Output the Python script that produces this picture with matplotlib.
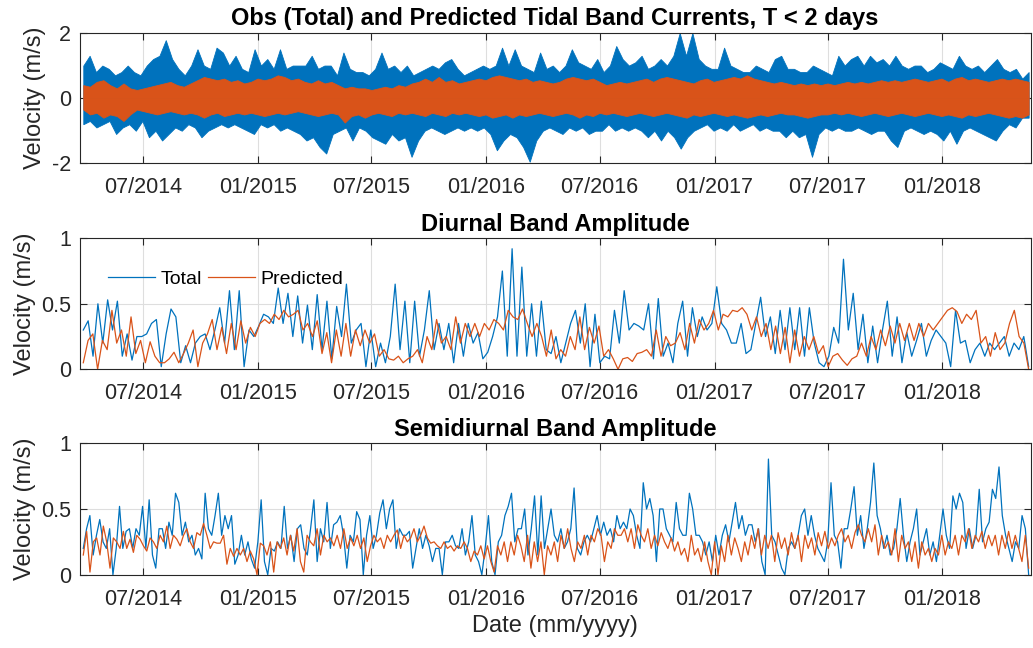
import numpy as np
import pandas as pd
import matplotlib
matplotlib.use('Agg')
import matplotlib.pyplot as plt
import matplotlib.dates as mdates

plt.rcParams['font.family'] = ['Liberation Sans', 'DejaVu Sans']
plt.rcParams['axes.unicode_minus'] = False

# record span
t_start = '2014-03-27'
t_end = '2018-05-19'

# top panel: envelopes of the band-passed currents (m/s)
obs_upper = [1.0,1.3,0.8,1.0,0.9,0.7,0.8,1.0,0.8,0.7,1.0,1.2,1.3,1.78,1.2,0.9,0.7,1.0,1.5,1.0,0.9,1.55,1.4,1.0,1.3,0.9,0.8,1.5,1.0,1.2,
             0.9,1.5,0.9,1.0,1.0,1.0,1.3,0.9,1.0,1.0,0.7,1.4,0.9,0.8,0.8,0.7,0.9,1.4,0.9,1.0,0.8,1.0,0.7,0.8,0.9,1.0,0.9,1.1,1.2,0.9,
             0.7,0.8,0.9,1.0,0.9,1.0,1.55,1.0,1.5,
             1.0,0.9,0.8,1.4,0.9,1.0,0.8,1.0,1.5,1.1,1.0,0.9,1.2,0.8,1.0,1.6,1.2,1.0,1.1,1.3,0.9,1.0,1.2,1.0,1.3,2.0,1.3,2.0,1.2,1.0,
             0.9,0.9,1.55,1.0,0.9,0.8,0.8,1.0,0.9,0.8,1.2,1.3,0.9,0.9,0.8,0.8,1.0,0.9,0.8,0.7,1.3,1.0,1.2,1.3,1.0,1.3,1.1,1.2,1.0,1.3,
             1.0,0.9,1.0,1.0,0.8,0.9,1.1,1.0,0.9,1.3,1.0,0.9,1.0,0.8,1.0,1.2,0.9,0.8,0.9,0.6,0.8]
obs_lower = [-0.8,-0.7,-0.9,-0.8,-0.7,-1.1,-0.9,-0.8,-1.0,-0.7,-1.2,-1.0,-1.3,-1.1,-0.9,-1.0,-0.8,-0.9,-1.2,-1.0,-0.9,-0.8,-0.9,-0.8,
             -0.9,-1.0,-1.1,-0.8,-0.9,-0.8,-1.0,-0.9,-1.0,-1.1,-1.3,-1.2,-1.5,-1.7,-1.1,-1.0,-0.9,-1.3,-0.9,-1.0,-1.2,-1.3,-1.4,-1.1,
             -1.3,-1.2,-1.8,-1.3,-1.0,-0.9,-1.0,-1.1,-1.0,-0.9,-1.0,-0.9,-1.0,-0.9,-1.1,-1.6,-1.3,-1.1,
             -1.2,-1.5,-1.95,-1.3,-1.0,-0.9,-1.0,-1.1,-0.9,-1.0,-0.9,-1.1,-1.0,-1.0,-0.8,-1.0,-0.9,-1.0,-0.9,-1.0,-1.2,-1.0,-1.3,-1.0,
             -1.2,-1.55,-1.2,-1.0,-0.9,-0.8,-1.0,-0.9,-1.0,-0.8,-1.0,-0.9,-0.8,-1.0,-0.9,-1.0,-1.0,-1.2,-1.0,-1.2,-1.1,-1.8,-1.1,-0.9,
             -1.0,-0.9,-1.0,-1.0,-0.9,-1.0,-1.1,-1.0,-1.0,-1.3,-1.5,-1.0,-0.9,-1.0,-1.1,-1.0,-1.1,-1.3,-1.0,-1.4,-1.0,-0.9,-1.0,-1.1,
             -1.2,-1.3,-1.0,-0.8,-0.9,-0.6,-0.6]
pred_upper = [0.4,0.35,0.5,0.55,0.4,0.3,0.45,0.3,0.25,0.3,0.35,0.4,0.45,0.5,0.4,0.35,0.45,0.55,0.65,0.6,0.55,0.6,0.5,0.55,0.45,
              0.5,0.6,0.55,0.6,0.7,0.65,0.55,0.6,0.5,0.45,0.55,0.45,0.5,0.4,0.3,0.35,0.3,0.3,0.25,0.3,0.35,0.3,0.4,0.35,0.45,
              0.5,0.6,0.5,0.65,0.5,0.55,0.45,0.5,0.55,0.6,0.55,0.65,0.7,0.65,
              0.6,0.55,0.6,0.5,0.55,0.5,0.45,0.5,0.6,0.65,0.6,0.55,0.6,0.5,0.4,0.45,0.5,0.45,0.5,0.55,0.6,0.5,0.6,0.65,0.6,
              0.55,0.5,0.45,0.55,0.6,0.5,0.55,0.6,0.65,0.6,0.7,0.6,0.55,0.5,0.45,0.5,0.45,0.4,0.45,0.4,0.45,0.4,0.45,0.4,0.45,
              0.5,0.45,0.5,0.45,0.5,0.55,0.5,0.55,0.5,0.55,0.6,0.55,0.5,0.55,0.6,0.5,0.6,0.65,0.55,0.6,0.55,0.5,0.55,0.6,0.55,
              0.6,0.55,0.5]
pred_lower = [-0.35,-0.5,-0.45,-0.6,-0.5,-0.55,-0.7,-0.5,-0.35,-0.4,-0.45,-0.5,-0.45,-0.4,-0.45,-0.5,-0.45,-0.5,-0.6,-0.5,-0.45,
              -0.55,-0.5,-0.45,-0.5,-0.45,-0.5,-0.55,-0.5,-0.45,-0.5,-0.45,-0.4,-0.45,-0.5,-0.55,-0.5,-0.45,-0.5,-0.75,-0.55,-0.5,
              -0.6,-0.5,-0.45,-0.5,-0.55,-0.45,-0.5,-0.45,-0.5,-0.55,-0.45,-0.5,-0.55,-0.45,-0.5,-0.45,-0.5,-0.55,-0.5,-0.6,-0.55,-0.5,
              -0.6,-0.5,-0.55,-0.5,-0.45,-0.5,-0.55,-0.5,-0.45,-0.5,-0.6,-0.5,-0.55,-0.45,-0.5,-0.45,-0.5,-0.55,-0.5,-0.45,-0.5,
              -0.55,-0.5,-0.45,-0.5,-0.55,-0.6,-0.5,-0.55,-0.5,-0.45,-0.5,-0.55,-0.5,-0.55,-0.6,-0.55,-0.5,-0.55,-0.5,-0.45,-0.5,
              -0.5,-0.55,-0.6,-0.55,-0.5,-0.5,-0.45,-0.5,-0.45,-0.5,-0.55,-0.5,-0.45,-0.5,-0.55,-0.5,-0.45,-0.5,-0.55,-0.5,-0.45,
              -0.5,-0.55,-0.5,-0.55,-0.6,-0.5,-0.55,-0.5,-0.45,-0.5,-0.55,-0.6,-0.55,-0.6,-0.5]

# diurnal band amplitude (m/s)
diurnal_total = [0.30,0.37,0.10,0.50,0.20,0.53,0.30,0.52,0.10,0.27,0.07,0.25,0.25,0.27,0.35,0.38,0.02,0.27,0.46,0.40,
                 0.05,0.18,0.05,0.20,0.25,0.27,0.15,0.30,0.47,0.20,0.60,0.15,0.60,0.02,0.30,0.25,0.33,0.42,0.40,0.35,
                 0.62,0.35,0.58,0.25,0.56,0.20,0.49,0.15,0.57,0.15,0.52,0.08,0.48,0.25,0.65,0.20,0.30,0.35,0.02,0.30,
                 0.02,0.20,0.05,0.25,0.65,0.15,0.52,0.05,0.52,0.10,0.30,0.60,0.15,0.35,0.15,0.35,0.05,0.35,0.10,0.35,
                 0.20,0.28,0.08,0.13,0.25,0.40,0.75,0.10,0.92,0.10,
                 0.78,0.10,0.50,0.10,0.52,0.15,0.12,0.25,0.05,0.20,0.35,0.45,0.20,0.50,0.02,0.42,0.05,0.10,0.08,0.45,
                 0.20,0.60,0.30,0.35,0.33,0.30,0.50,0.08,0.54,0.10,0.20,0.05,0.35,0.52,0.10,0.47,0.25,0.40,0.30,0.35,
                 0.63,0.35,0.30,0.20,0.20,0.35,0.12,0.15,0.35,0.55,0.25,0.40,0.12,0.45,0.15,0.47,0.15,0.47,0.10,0.47,
                 0.20,0.05,0.02,0.10,0.32,0.20,0.84,0.30,0.58,0.15,0.42,0.05,0.33,0.05,0.30,0.52,0.10,0.40,0.05,0.28,
                 0.10,0.22,0.35,0.10,0.22,0.30,0.25,0.20,0.02,0.45,0.20,0.22,0.05,0.15,0.20,0.10,0.20,0.15,0.20,0.25,
                 0.10,0.20,0.15,0.25,0.02]
diurnal_pred = [0.05,0.22,0.27,0.00,0.22,0.15,0.45,0.20,0.30,0.10,0.40,0.12,0.22,0.05,0.21,0.10,0.05,0.05,0.08,0.13,
                0.05,0.12,0.20,0.30,0.02,0.20,0.27,0.38,0.15,0.32,0.12,0.35,0.15,0.37,0.20,0.32,0.25,0.35,0.38,0.35,
                0.42,0.38,0.45,0.40,0.42,0.45,0.30,0.35,0.25,0.37,0.12,0.28,0.05,0.30,0.10,0.35,0.10,0.30,0.18,0.30,
                0.20,0.27,0.10,0.15,0.08,0.07,0.10,0.05,0.08,0.10,0.15,0.05,0.25,0.15,0.38,0.20,0.25,0.15,0.40,0.20,
                0.35,0.25,0.35,0.25,0.35,0.30,0.38,0.35,0.30,0.45,0.40,0.38,0.46,
                0.35,0.25,0.35,0.25,0.10,0.30,0.08,0.15,0.10,0.25,0.15,0.40,0.15,0.32,0.20,0.33,0.10,0.15,0.08,0.00,
                0.08,0.09,0.06,0.12,0.13,0.15,0.10,0.30,0.10,0.25,0.18,0.20,0.28,0.15,0.35,0.20,0.38,0.30,0.35,0.45,
                0.30,0.42,0.40,0.45,0.44,0.47,0.42,0.30,0.40,0.25,0.35,0.15,0.33,0.12,0.32,0.05,0.30,0.10,0.25,0.15,
                0.25,0.12,0.18,0.02,0.10,0.12,0.07,0.03,0.08,0.10,0.20,0.10,0.25,0.15,0.30,0.18,0.33,0.20,0.35,0.22,
                0.35,0.22,0.35,0.25,0.35,0.30,0.35,0.40,0.45,0.47,0.44,0.35,0.42,0.38,0.45,0.20,0.25,0.10,0.28,0.15,
                0.20,0.35,0.45,0.25,0.20,0.00]

# semidiurnal band amplitude (m/s)
semi_total = [0.20,0.35,0.45,0.15,0.30,0.42,0.25,0.20,0.35,0.00,0.20,0.52,0.20,0.33,0.35,0.20,0.35,0.30,0.52,0.20,
              0.57,0.15,0.05,0.35,0.35,0.20,0.40,0.30,0.62,0.55,0.30,0.40,0.25,0.30,0.15,0.20,0.12,0.62,0.35,0.30,
              0.45,0.62,0.30,0.45,0.35,0.45,0.08,0.15,0.30,0.15,0.25,0.12,0.05,0.25,0.57,0.10,0.00,0.20,0.18,0.25,
              0.20,0.52,0.20,0.30,0.10,0.35,0.38,0.20,0.15,0.35,0.57,0.10,0.35,0.25,0.55,0.20,0.38,0.40,0.45,0.30,
              0.05,0.30,0.25,0.48,0.42,0.00,0.30,0.45,0.20,0.30,0.47,0.57,0.35,0.50,0.57,0.20,0.35,0.30,0.30,0.33,
              0.05,0.20,0.35,0.20,0.30,0.22,0.10,0.20,0.20,0.00,0.25,0.25,0.30,0.22,0.20,0.35,0.15,0.25,0.45,0.15,
              0.10,0.00,0.20,0.45,0.10,0.00,0.25,0.30,0.45,0.52,0.62,0.25,0.35,
              0.35,0.50,0.15,0.35,0.60,0.15,0.60,0.20,0.35,0.50,0.30,0.25,0.35,0.20,0.25,0.35,0.66,0.20,0.15,0.25,
              0.30,0.25,0.35,0.45,0.30,0.40,0.30,0.35,0.25,0.45,0.35,0.40,0.35,0.50,0.45,0.30,0.20,0.70,0.50,0.58,
              0.45,0.10,0.50,0.50,0.35,0.30,0.25,0.55,0.35,0.30,0.30,0.62,0.50,0.30,0.30,0.25,0.15,0.25,0.10,0.30,
              0.15,0.30,0.38,0.25,0.40,0.55,0.35,0.45,0.30,0.38,0.38,0.25,0.35,0.10,0.00,0.88,0.30,0.25,0.15,0.05,
              0.00,0.20,0.25,0.20,0.30,0.45,0.50,0.30,0.45,0.30,0.20,0.15,0.10,0.25,0.70,0.30,0.25,0.05,0.35,0.35,
              0.50,0.67,0.30,0.45,0.20,0.35,0.55,0.85,0.45,0.35,0.20,0.30,0.15,0.20,0.35,0.58,0.30,0.10,0.25,0.35,
              0.50,0.15,0.25,0.35,0.15,0.25,0.10,0.30,0.50,0.30,0.20,0.60,0.50,0.62,0.55,0.20,0.35,0.20,0.30,0.65,
              0.25,0.35,0.40,0.65,0.58,0.82,0.45,0.30,0.20,0.10,0.25,0.20,0.45,0.35,0.00]
semi_pred = [0.15,0.33,0.02,0.25,0.28,0.15,0.37,0.25,0.05,0.28,0.25,0.20,0.33,0.20,0.27,0.17,0.30,0.27,0.22,0.18,
             0.28,0.25,0.20,0.30,0.25,0.37,0.20,0.30,0.27,0.22,0.30,0.35,0.25,0.20,0.32,0.30,0.39,0.30,0.20,0.25,
             0.24,0.24,0.30,0.08,0.20,0.14,0.20,0.15,0.20,0.10,0.18,0.12,0.00,0.24,0.22,0.15,0.25,0.02,0.25,0.20,
             0.28,0.15,0.30,0.18,0.35,0.10,0.02,0.30,0.25,0.22,0.35,0.15,0.30,0.25,0.28,0.22,0.30,0.20,0.35,0.20,
             0.28,0.22,0.30,0.20,0.28,0.10,0.22,0.30,0.25,0.28,0.20,0.30,0.25,0.30,0.34,0.20,0.30,0.25,0.28,0.35,
             0.25,0.30,0.37,0.28,0.24,0.25,0.22,0.20,0.25,0.20,0.22,0.18,0.22,0.20,0.25,0.20,0.10,0.18,0.15,0.22,
             0.12,0.22,0.10,0.02,0.22,0.15,0.25,0.10,
             0.25,0.15,0.30,0.22,0.10,0.30,0.05,0.25,0.10,0.25,0.00,0.22,0.15,0.25,0.10,0.30,0.20,0.35,0.20,0.10,
             0.25,0.20,0.30,0.15,0.30,0.25,0.35,0.30,0.10,0.25,0.20,0.35,0.30,0.30,0.35,0.25,0.35,0.20,0.38,0.30,
             0.25,0.35,0.20,0.30,0.22,0.32,0.25,0.20,0.28,0.18,0.25,0.15,0.20,0.10,0.30,0.15,0.20,0.10,0.25,0.10,
             0.00,0.25,0.00,0.22,0.10,0.30,0.15,0.28,0.20,0.10,0.25,0.15,0.30,0.20,0.35,0.15,0.30,0.20,0.30,0.10,
             0.32,0.20,0.28,0.15,0.32,0.20,0.30,0.10,0.30,0.20,0.28,0.15,0.32,0.22,0.33,0.20,0.28,0.22,0.30,0.35,
             0.25,0.30,0.20,0.32,0.38,0.30,0.25,0.35,0.25,0.38,0.15,0.30,0.20,0.25,0.15,0.35,0.10,0.30,0.20,0.25,
             0.10,0.25,0.05,0.25,0.15,0.20,0.10,0.20,0.15,0.30,0.15,0.25,0.20,0.30,0.15,0.30,0.25,0.35,0.20,0.30,
             0.25,0.33,0.20,0.30,0.22,0.30,0.15,0.30,0.20,0.33,0.20,0.30,0.20,0.10,0.30,0.05]

blue = '#0072BD'
orange = '#D95319'
ink = '#262626'


def times(vals):
    t0 = pd.Timestamp(t_start)
    span = (pd.Timestamp(t_end) - t0).days
    return t0 + pd.to_timedelta(np.linspace(0, span, len(vals)), unit='D')


def style(ax, ylim, ticks, labels, title, pad):
    ax.set_xlim(pd.Timestamp('2014-03-21'), pd.Timestamp('2018-05-22'))
    ax.set_ylim(ylim)
    ax.set_yticks(ticks)
    ax.set_yticklabels(labels)
    ax.xaxis.set_major_locator(mdates.MonthLocator(bymonth=[1, 7]))
    ax.xaxis.set_major_formatter(mdates.DateFormatter('%m/%Y'))
    ax.grid(True, color='#dedede', linewidth=0.8)
    ax.set_axisbelow(True)
    ax.tick_params(direction='in', top=True, right=True, length=5, width=0.8,
                   color=ink, labelcolor=ink, labelsize=15.5)
    ax.tick_params(axis='x', pad=10)
    ax.tick_params(axis='y', pad=6)
    for s in ax.spines.values():
        s.set_color(ink)
        s.set_linewidth(0.8)
    ax.set_ylabel('Velocity (m/s)', fontsize=17, color=ink, labelpad=4)
    ax.set_title(title, fontsize=17, fontweight='bold', pad=pad)


fig = plt.figure(figsize=(10.33, 6.48), dpi=100)
ax1 = fig.add_axes([0.077, 0.748, 0.9206, 0.2011])
ax2 = fig.add_axes([0.077, 0.4301, 0.9206, 0.2022])
ax3 = fig.add_axes([0.077, 0.1131, 0.9206, 0.2028])

# top: total and predicted tidal band currents
ax1.fill_between(times(obs_upper), 0, obs_upper, color=blue, linewidth=0.6)
ax1.fill_between(times(obs_lower), obs_lower, 0, color=blue, linewidth=0.6)
ax1.fill_between(times(pred_upper), 0, pred_upper, color=orange, linewidth=0.6)
ax1.fill_between(times(pred_lower), pred_lower, 0, color=orange, linewidth=0.6)
style(ax1, (-2, 2), [-2, 0, 2], ['-2', '0', '2'],
      'Obs (Total) and Predicted Tidal Band Currents, T < 2 days', 6)

ax2.plot(times(diurnal_total), diurnal_total, color=blue, linewidth=0.9, label='Total')
ax2.plot(times(diurnal_pred), diurnal_pred, color=orange, linewidth=0.9, label='Predicted')
style(ax2, (0, 1), [0, 0.5, 1], ['0', '0.5', '1'], 'Diurnal Band Amplitude', 5)
ax2.legend(loc='center left', bbox_to_anchor=(0.012, 0.69), ncol=2, frameon=False,
           fontsize=14, handlelength=2.4, handletextpad=0.3, columnspacing=0.3)

ax3.plot(times(semi_total), semi_total, color=blue, linewidth=0.9)
ax3.plot(times(semi_pred), semi_pred, color=orange, linewidth=0.9)
style(ax3, (0, 1), [0, 0.5, 1], ['0', '0.5', '1'], 'Semidiurnal Band Amplitude', 5)
ax3.set_xlabel('Date (mm/yyyy)', fontsize=17, color=ink, labelpad=4)

fig.savefig('out.png', dpi=100)
